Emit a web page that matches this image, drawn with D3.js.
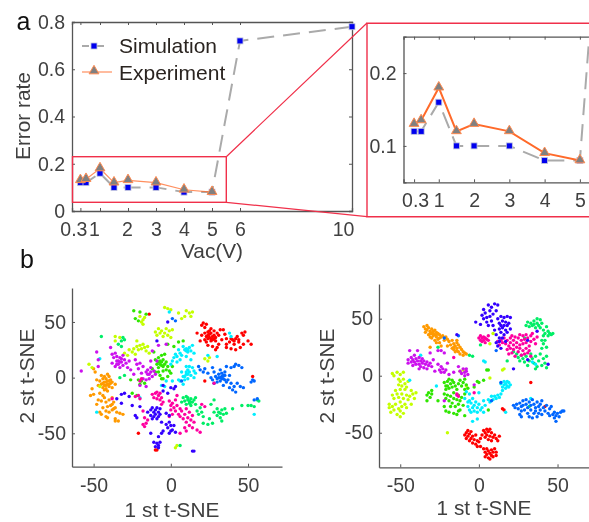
<!DOCTYPE html>
<html>
<head>
<meta charset="utf-8">
<script src="https://cdn.jsdelivr.net/npm/d3@7"></script>
<style>
  html, body { margin: 0; padding: 0; background: #fff; overflow: hidden; }
  text { font-family: "Liberation Sans", Arial, sans-serif; }
  svg { filter: blur(0.4px); }
</style>
</head>
<body>
<svg id="chart" width="589" height="522"></svg>
<script>
// Panel a: error rate against Vac
const vac = [0.3, 0.5, 1, 1.5, 2, 3, 4, 5, 6, 10];
const simulation = [0.12, 0.12, 0.16, 0.10, 0.10, 0.10, 0.08, 0.08, 0.72, 0.78];
const vacExp = [0.3, 0.5, 1, 1.5, 2, 3, 4, 5];
const experiment = [0.13, 0.135, 0.18, 0.12, 0.13, 0.12, 0.09, 0.08];
const mainXTicks = [0.3, 1, 2, 3, 4, 5, 6, 10];
const mainYTicks = [0, 0.2, 0.4, 0.6, 0.8];
const insetXTicks = [0.3, 1, 2, 3, 4, 5];
const insetYTicks = [0.1, 0.2];
const sneTicks = [-50, 0, 50];

const clusterColors = {
  red: '#ff0000', orange: '#ff9a00', purple: '#cc11ee', lime: '#c4ff00', green: '#2fe600',
  spring: '#00ee66', cyan: '#00eeff', blue: '#0066ff', indigo: '#3300ff', pink: '#ff00a0'
};

// Panel b left, points read per colour
const leftRed = [[21,49],[20,47],[23,48],[22,45],[17,40],[20,38],[22,40],[24,38],[25,36],[26,40],[27,37],[28,35],[26,33],[24,35],[23,32],[28,42],[30,40],[31,38],[29,33],[27,28],[32,43],[34,43],[26,44],[33,34],[31,30],[36,30],[36,35],[38,32],[40,34],[41,30],[42,35],[44,34],[43,37],[46,40],[48,41],[44,32],[47,30],[50,33],[52,30],[39,26],[42,25],[36,27],[30,27],[29,25],[19,33],[22,34],[45,27],[47,38],[24,29],[25,42],[35,39],[-14,57],[-10,-65],[-9,-65],[-21,-50],[53,1],[22,-3],[23,37],[25,39],[26,35],[27,34],[24,41],[28,38],[29,36],[41,33],[39,35]];
const leftOrange = [[-51,-10],[-50,-15],[-52,-16],[-50,8],[-49,5],[-48,-2],[-47,-7],[-46,-3],[-45,2],[-44,-1],[-43,-4],[-42,-7],[-41,-3],[-40,-8],[-39,-5],[-38,-4],[-44,-9],[-42,-1],[-41,3],[-43,1],[-40,1],[-45,-6],[-43,-11],[-41,-12],[-38,-9],[-36,-6],[-46,-14],[-44,-16],[-47,-20],[-48,-24],[-45,-21],[-43,-18],[-42,-22],[-40,-20],[-38,-18],[-41,-26],[-39,-25],[-37,-22],[-36,-27],[-44,-27],[-42,-30],[-40,-31],[-38,-29],[-35,-31],[-33,-32],[-45,-33],[-41,-36],[-36,-37],[-42,-35],[-34,-39],[-36,-39],[-31,-33],[-46,-31],[-44,-5],[-43,-7],[-42,-4],[-41,-6],[-40,-3],[-39,-2],[-42,-10],[-40,-6],[-38,-24],[-37,-28]];
const leftPurple = [[-58,6],[-48,23],[-47,16],[-47,10],[-39,27],[-38,21],[-37,18],[-36,22],[-35,15],[-34,12],[-33,18],[-32,14],[-31,11],[-30,16],[-29,13],[-33,9],[-36,10],[-38,13],[-35,19],[-31,20],[-28,9],[-27,15],[-26,7],[-23,16],[-22,12],[-21,8],[-20,13],[-18,10],[-16,5],[-15,7],[-14,3],[-13,9],[-12,1],[-11,6],[-10,3],[-16,-2],[-19,4],[-14,-1],[-24,3],[-18,-1],[-9,15],[-13,15],[-8,29],[-12,24],[-3,30],[-20,-7],[-16,-8],[-34,15],[-33,14],[-32,17],[-35,12],[-15,3],[-13,5]];
const leftLime = [[-53,12],[-51,9],[-30,22],[-28,20],[-27,25],[-25,23],[-24,26],[-23,21],[-22,28],[-21,25],[-20,29],[-19,26],[-18,30],[-17,27],[-16,24],[-15,28],[-22,33],[-14,22],[-10,41],[-9,38],[-8,44],[-7,40],[-6,42],[-5,37],[-4,40],[-3,44],[-2,38],[-1,42],[0,36],[1,43],[-4,63],[-2,62],[0,61],[-20,55],[-19,50],[-18,48],[-18,52],[-17,54],[10,60],[12,58],[13,55],[9,55],[14,59],[22,17],[24,15],[25,18],[3,-63],[4,-61],[-36,37],[-36,33],[-33,36],[-46,-8],[7,53],[5,58]];
const leftGreen = [[-12,8],[-10,16],[-9,12],[-8,18],[-8,9],[-7,15],[-6,20],[-6,11],[-5,16],[-5,6],[-4,12],[-4,21],[-3,14],[-3,7],[-2,10],[-2,1],[-7,2],[-5,-1],[-8,5],[-1,6],[1,10],[0,4],[-10,5],[-6,-1],[-11,23],[-21,-2],[-19,-3],[-20,-6],[-17,-5],[-25,-14],[-22,-16],[-24,60],[-20,59],[-23,53],[-21,51],[-16,57],[-2,30],[2,28],[5,32],[8,33],[-26,-2],[-7,12],[-6,14],[-5,10],[-8,14]];
const leftSpring = [[7,-22],[8,-18],[9,-21],[10,-17],[11,-20],[12,-23],[13,-19],[14,-22],[15,-20],[16,-18],[10,-24],[13,-25],[16,-24],[17,-30],[18,-33],[20,-31],[21,-35],[19,-27],[25,-37],[27,-41],[24,-42],[30,-34],[31,-31],[32,-36],[33,-29],[34,-33],[35,-28],[30,-28],[28,-31],[36,-32],[33,-39],[28,-20],[26,-24],[40,-28],[46,-25],[-34,30],[-32,33],[-31,36],[-30,34],[-32,28],[-45,37],[52,-25],[50,-25],[54,-26],[56,-20],[57,-21],[6,-61],[21,-41],[-30,2],[-33,0],[11,-18],[12,-21],[13,-22],[32,-32]];
const leftCyan = [[0,12],[1,15],[2,18],[3,21],[4,19],[4,14],[5,25],[6,22],[7,20],[8,28],[9,25],[10,26],[11,23],[12,27],[13,24],[14,29],[10,19],[6,16],[13,16],[15,22],[7,5],[8,1],[9,-2],[10,3],[11,7],[11,-1],[12,5],[13,2],[14,9],[15,6],[16,4],[10,10],[12,10],[15,0],[6,-3],[5,-2],[-4,-8],[-6,-7],[1,-3],[8,-6],[-46,17],[-48,-31],[54,-33],[24,20],[30,19],[-3,-3],[-20,-18],[38,40],[39,37],[-1,59],[11,25],[10,24],[10,5],[11,3],[9,1]];
const leftBlue = [[18,10],[19,7],[21,5],[22,8],[24,4],[27,9],[28,5],[29,1],[30,-1],[31,3],[32,-3],[33,1],[34,-1],[35,5],[36,-4],[37,-2],[35,2],[33,4],[32,7],[30,-4],[27,-2],[26,0],[28,-5],[34,-7],[38,2],[38,-9],[39,-5],[40,-11],[41,-8],[42,-13],[43,-5],[45,-8],[47,-9],[41,10],[42,12],[44,11],[39,9],[36,10],[46,9],[54,-3],[53,-2],[52,-4],[54,-20],[56,-19],[3,51],[1,53],[7,-3],[32,0],[33,-1],[34,2],[31,0],[35,-2]];
const leftIndigo = [[-15,-31],[-13,-34],[-13,-29],[-12,-27],[-12,-37],[-11,-31],[-11,-35],[-10,-29],[-10,-33],[-9,-37],[-9,-27],[-8,-31],[-8,-35],[-7,-28],[-7,-33],[-6,-40],[-3,-32],[-1,-34],[-3,-42],[-2,-45],[-1,-40],[0,-43],[1,-47],[2,-43],[0,-48],[3,-49],[-1,-50],[-13,-50],[-8,-53],[-6,-50],[-5,-48],[-11,-58],[-10,-62],[-9,-59],[-8,-61],[-7,-58],[-8,-63],[14,-66],[15,-66],[-25,-25],[-23,-34],[-22,-36],[-20,-26],[-32,-15],[-30,-14],[-32,-23],[-35,-19],[0,-9],[2,-10],[3,-8],[-2,-14],[-5,-12],[-27,-17],[-9,33],[-2,50],[-5,-7]];
const leftPink = [[-12,-15],[-11,-18],[-10,-14],[-9,-19],[-9,-13],[-8,-16],[-7,-20],[-7,-14],[-6,-18],[-6,-24],[-5,-22],[-18,-30],[-17,-36],[-16,-41],[-18,-42],[-17,-44],[-15,-38],[-1,-21],[0,-25],[0,-29],[1,-23],[1,-33],[2,-27],[3,-20],[3,-30],[4,-25],[4,-16],[5,-33],[6,-28],[-1,-35],[6,-35],[7,-30],[8,-37],[9,-33],[10,-40],[10,-28],[11,-36],[12,-43],[12,-31],[13,-38],[14,-34],[15,-40],[14,-45],[9,-45],[20,-24],[22,-26],[17,-47],[19,-49],[-38,-19],[-19,-1],[-21,-16],[-20,-19],[-23,-17],[6,-50],[10,-48],[-20,-3],[28,-5]];

// Panel b right, points read per colour
const rightRed = [[-9,-52],[-8,-50],[-8,-55],[-7,-48],[-7,-53],[-6,-51],[-6,-57],[-5,-49],[-5,-55],[-4,-53],[-4,-59],[-3,-56],[-2,-52],[-2,-60],[-1,-57],[-1,-62],[0,-58],[1,-55],[2,-52],[3,-48],[4,-50],[4,-54],[5,-47],[5,-52],[6,-49],[6,-56],[7,-47],[7,-53],[8,-50],[8,-57],[9,-54],[10,-52],[11,-55],[12,-57],[13,-53],[3,-64],[4,-67],[4,-71],[5,-64],[5,-69],[6,-66],[6,-72],[7,-68],[7,-73],[8,-65],[8,-70],[9,-67],[9,-71],[10,-64],[11,-67],[11,-70],[1,-62],[15,-29],[16,-30],[33,-6],[42,-27]];
const rightOrange = [[-35,43],[-34,41],[-34,38],[-33,44],[-33,40],[-32,36],[-32,42],[-31,39],[-31,34],[-30,41],[-30,37],[-30,33],[-29,39],[-29,35],[-28,40],[-28,36],[-28,31],[-27,38],[-27,34],[-27,29],[-26,37],[-26,32],[-25,36],[-25,29],[-24,34],[-24,26],[-23,35],[-22,31],[-21,34],[-20,32],[-20,26],[-19,30],[-18,27],[-17,31],[-17,24],[-16,28],[-16,23],[-15,26],[-15,21],[-14,29],[-14,24],[-13,27],[-13,21],[-12,25],[-12,19],[-11,23],[-10,21],[-10,18],[-9,20],[-8,19],[-31,25],[-14,31],[-31,37],[-29,37],[-27,36],[-25,33],[-16,25],[-14,22]];
const rightPurple = [[-45,14],[-45,11],[-44,22],[-43,16],[-43,12],[-42,14],[-42,9],[-41,18],[-41,12],[-40,15],[-40,10],[-39,22],[-39,13],[-38,16],[-38,10],[-38,6],[-37,13],[-37,8],[-36,15],[-36,11],[-35,7],[-35,13],[-34,10],[-33,12],[-33,6],[-32,9],[-31,11],[-30,8],[-28,4],[-29,14],[-26,10],[-25,5],[-24,8],[-24,3],[-23,6],[-22,3],[-21,5],[-20,11],[-19,1],[-16,3],[-13,8],[-12,4],[-11,2],[-10,6],[-9,0],[-9,3],[-8,4],[-7,1],[-8,6],[-24,22],[-26,22],[-31,20],[-22,-22],[-14,-17],[-3,-8],[-22,20]];
const rightLime = [[-55,2],[-54,0],[-52,3],[-51,-3],[-51,-8],[-50,1],[-50,-5],[-49,-9],[-48,3],[-48,-3],[-47,-7],[-46,-10],[-45,-5],[-47,-12],[-50,-12],[-53,-13],[-55,-17],[-54,-20],[-52,-16],[-51,-19],[-50,-23],[-49,-16],[-48,-20],[-47,-25],[-46,-17],[-45,-21],[-44,-18],[-43,-13],[-42,-16],[-41,-20],[-40,-15],[-57,-25],[-57,-28],[-56,-32],[-55,-27],[-54,-30],[-53,-25],[-52,-34],[-51,-29],[-50,-31],[-50,-36],[-49,-27],[-48,-33],[-46,-28],[-43,-25],[-20,-50],[-10,5],[-12,4],[7,28],[7,-2],[16,6],[15,5],[9,37],[-8,-9]];
const rightGreen = [[-22,-6],[-21,-9],[-21,-12],[-20,-5],[-20,-9],[-19,-3],[-19,-11],[-18,-7],[-17,-4],[-17,-10],[-16,-6],[-15,-9],[-14,-12],[-13,-7],[-12,-4],[-11,-9],[-10,-6],[-9,-12],[-9,-3],[-8,-8],[-7,-11],[-22,-16],[-21,-20],[-20,-17],[-19,-22],[-18,-18],[-17,-24],[-16,-15],[-16,-20],[-15,-27],[-14,-21],[-13,-17],[-13,-25],[-12,-30],[-12,-22],[-11,-19],[-10,-26],[-9,-16],[-22,-27],[-21,-31],[-19,-32],[-18,-27],[-16,-33],[-14,-34],[-13,-31],[-33,-17],[-32,-15],[-31,-19],[-30,-16],[-33,-22],[-26,-22],[-9,-35],[-30,-13],[0,-6],[3,-4],[-3,-10],[-1,-5],[6,-30],[5,5],[6,5]];
const rightSpring = [[30,44],[31,47],[32,43],[33,46],[34,44],[35,48],[35,45],[36,42],[37,50],[37,46],[38,44],[39,49],[39,42],[40,46],[41,40],[42,37],[43,43],[44,35],[44,39],[45,37],[46,36],[47,37],[41,35],[41,28],[42,31],[40,31],[43,25],[40,24],[22,21],[24,19],[25,16],[26,13],[27,18],[28,15],[29,12],[30,17],[31,9],[32,13],[33,19],[34,15],[35,11],[36,17],[37,8],[38,13],[39,19],[40,9],[41,15],[42,11],[43,17],[43,7],[36,6],[18,13],[-4,17],[-6,18],[1,27],[29,33],[-26,25],[32,-27]];
const rightCyan = [[14,-7],[15,-10],[16,-5],[16,-8],[17,-7],[17,-11],[18,-5],[18,-9],[19,-6],[19,-10],[20,-8],[15,-13],[14,-16],[13,-19],[12,-17],[11,-20],[10,-18],[9,-21],[8,-18],[7,-23],[6,-21],[4,-26],[3,-22],[2,-28],[1,-30],[3,-32],[0,-25],[-1,-28],[-2,-23],[-3,-26],[-3,-31],[-4,-20],[-4,-28],[-5,-32],[-5,-24],[-6,-30],[-6,-22],[-7,-27],[-1,-32],[-1,-38],[-4,-40],[-9,-20],[-6,-16],[-8,-14],[0,-15],[4,12],[3,13],[-27,-9],[-37,18],[-44,-4],[17,-32],[33,-20],[34,12],[36,10],[-7,-23]];
const rightBlue = [[22,-26],[23,-28],[24,-25],[25,-29],[26,-24],[27,-27],[27,-31],[28,-22],[28,-26],[29,-30],[30,-21],[30,-25],[31,-33],[31,-28],[32,-23],[32,-36],[33,-26],[33,-30],[34,-21],[34,-37],[35,-25],[35,-33],[36,-28],[36,-31],[37,-23],[37,-36],[38,-27],[38,-33],[39,-25],[39,-30],[40,-22],[40,-34],[41,-28],[42,-31],[43,-26],[44,-33],[45,-29],[46,-27],[47,-34],[48,-37],[48,-32],[49,-35],[50,-33],[51,-36],[52,-32],[53,-31],[54,-31],[49,-40],[27,-36],[26,-34],[45,-35],[8,-22],[14,-6],[12,30],[-22,33],[-13,35],[11,22]];
const rightIndigo = [[-2,47],[1,45],[2,53],[3,58],[3,50],[4,55],[5,51],[5,47],[6,62],[6,44],[7,57],[7,52],[8,48],[8,60],[9,54],[9,44],[10,63],[10,40],[11,57],[11,36],[12,62],[12,50],[13,46],[13,41],[13,33],[14,52],[14,44],[14,38],[15,48],[15,42],[16,51],[16,36],[16,44],[17,47],[17,40],[18,44],[18,52],[18,38],[19,46],[20,51],[20,41],[11,29],[12,26],[14,24],[17,30],[13,30],[15,33],[-14,36],[22,6],[37,39],[31,31],[44,10],[31,14]];
const rightPink = [[0,33],[1,31],[1,35],[2,33],[2,30],[3,34],[3,31],[4,33],[4,29],[5,32],[6,31],[6,35],[12,30],[13,27],[14,31],[15,29],[16,33],[17,28],[18,31],[19,26],[20,33],[20,29],[21,35],[22,31],[22,27],[23,34],[24,29],[25,33],[26,27],[26,36],[27,31],[28,35],[28,28],[29,32],[30,36],[30,29],[31,33],[32,26],[33,35],[33,30],[34,37],[35,32],[36,28],[37,34],[18,23],[19,19],[20,24],[21,20],[22,23],[23,17],[24,25],[25,21],[26,24],[27,18],[28,22],[29,19],[30,24],[31,20],[32,22],[33,17],[-16,16],[-14,-16],[-13,-18],[-3,-15]];

const svg = d3.select('#chart');
const textColor = '#404040';
const axisColor = '#555';
const tickFont = 19.5;
const labelFont = 20.8;

function styleAxis(g) {
  g.selectAll('path.domain').attr('stroke', axisColor).attr('stroke-width', 1.3);
  g.selectAll('.tick line').attr('stroke', axisColor).attr('stroke-width', 1);
  g.selectAll('text')
    .attr('fill', textColor)
    .style('font-family', '"Liberation Sans", Arial, sans-serif')
    .style('font-size', tickFont + 'px');
}

function addText(x, y, str, opts = {}) {
  const t = svg.append('text')
    .attr('x', x)
    .attr('y', y)
    .attr('fill', opts.color || textColor)
    .attr('text-anchor', opts.anchor || 'middle')
    .style('font-size', (opts.size || labelFont) + 'px')
    .text(str);
  if (opts.rotate) t.attr('transform', `rotate(-90 ${x} ${y})`);
  return t;
}

function drawSquares(g, xs, ys, x, y) {
  g.selectAll(null)
    .data(xs.map((v, i) => [v, ys[i]]))
    .join('rect')
    .attr('x', d => x(d[0]) - 3)
    .attr('y', d => y(d[1]) - 3)
    .attr('width', 6)
    .attr('height', 6)
    .attr('fill', '#0000ee')
    .attr('stroke', '#c4c8dc')
    .attr('stroke-width', 0.8);
}

function drawTriangles(g, xs, ys, x, y) {
  const tri = d3.symbol().type(d3.symbolTriangle).size(42);
  g.selectAll(null)
    .data(xs.map((v, i) => [v, ys[i]]))
    .join('path')
    .attr('d', tri())
    .attr('transform', d => `translate(${x(d[0])},${y(d[1]) - 0.5})`)
    .attr('fill', '#808080')
    .attr('stroke', '#ff8a50')
    .attr('stroke-width', 1);
}

function drawSeries(g, x, y, expWidth, dash) {
  const line = d3.line().x(d => x(d[0])).y(d => y(d[1]));
  g.append('path')
    .attr('d', line(vac.map((v, i) => [v, simulation[i]])))
    .attr('fill', 'none')
    .attr('stroke', '#aaaaaa')
    .attr('stroke-width', 2)
    .attr('stroke-dasharray', dash);
  g.append('path')
    .attr('d', line(vacExp.map((v, i) => [v, experiment[i]])))
    .attr('fill', 'none')
    .attr('stroke', '#ff6a2a')
    .attr('stroke-opacity', expWidth > 1.5 ? 1 : 0.75)
    .attr('stroke-width', expWidth);
  drawSquares(g, vac, simulation, x, y);
  drawTriangles(g, vacExp, experiment, x, y);
}

// ---- main plot ----
const xMain = d3.scaleLinear().domain([0, 10]).range([72, 352]);
const yMain = d3.scaleLinear().domain([0, 0.8]).range([211, 22]);

const mainBottom = svg.append('g').attr('transform', 'translate(0,211)')
  .call(d3.axisBottom(xMain).tickValues(mainXTicks).tickSize(-3).tickPadding(11).tickFormat(d => d));
styleAxis(mainBottom);
mainBottom.selectAll('.tick text').attr('dx', d => d === 0.3 ? -7 : d === 1 ? -6 : d === 10 ? -9 : d === 2 ? -1 : 0);
const mainLeft = svg.append('g').attr('transform', 'translate(72,0)')
  .call(d3.axisLeft(yMain).tickValues(mainYTicks).tickSize(-3).tickPadding(7).tickFormat(d => d));
styleAxis(mainLeft);
// box on
svg.append('g').attr('transform', 'translate(0,22)')
  .call(d3.axisTop(xMain).tickValues(mainXTicks).tickSize(-3).tickFormat(''))
  .call(styleAxis);
svg.append('g').attr('transform', 'translate(352,0)')
  .call(d3.axisRight(yMain).tickValues(mainYTicks).tickSize(-3).tickFormat(''))
  .call(styleAxis);

const mainG = svg.append('g');
drawSeries(mainG, xMain, yMain, 1.2, '17 9');

// legend
const xLegend = d3.scaleLinear().domain([0, 1]).range([82, 112]);
const legendDash = svg.append('g');
legendDash.append('line')
  .attr('x1', xLegend(0)).attr('x2', xLegend(1)).attr('y1', 46).attr('y2', 46)
  .attr('stroke', '#aaaaaa').attr('stroke-width', 2).attr('stroke-dasharray', '7 8');
legendDash.append('rect').attr('x', 91).attr('y', 43).attr('width', 6).attr('height', 6)
  .attr('fill', '#0000ee').attr('stroke', '#c4c8dc').attr('stroke-width', 0.8);
legendDash.append('line')
  .attr('x1', xLegend(0)).attr('x2', xLegend(1)).attr('y1', 72).attr('y2', 72)
  .attr('stroke', '#ff6a2a').attr('stroke-opacity', 0.75).attr('stroke-width', 1.2);
legendDash.append('path')
  .attr('d', d3.symbol().type(d3.symbolTriangle).size(42)())
  .attr('transform', 'translate(94,71)')
  .attr('fill', '#808080').attr('stroke', '#ff8a50');
addText(119, 53, 'Simulation', { anchor: 'start', size: 21, color: '#2a2420' });
addText(119, 80, 'Experiment', { anchor: 'start', size: 21, color: '#2a2420' });

// zoom box and connectors
const zoomColor = '#f0304a';
svg.append('rect').attr('x', 72.5).attr('y', 156.7).attr('width', 153.8).attr('height', 45.6)
  .attr('fill', 'none').attr('stroke', zoomColor).attr('stroke-width', 1.4);
svg.append('path').attr('d', 'M226.3,156.7L367,23M226.3,202.3L367,216.7')
  .attr('fill', 'none').attr('stroke', zoomColor).attr('stroke-width', 1.2);
svg.append('path').attr('d', 'M600,23.3H367V216.7H600')
  .attr('fill', 'none').attr('stroke', zoomColor).attr('stroke-width', 1.4);

// ---- inset ----
const xInset = d3.scaleLinear().domain([0, 5.4]).range([403.5, 594]);
const yInset = d3.scaleLinear().domain([0.05, 0.25]).range([182.3, 36.7]);
svg.append('clipPath').attr('id', 'insetClip').append('rect')
  .attr('x', 403.5).attr('y', 36.7).attr('width', 190).attr('height', 145.6);

svg.append('g').attr('transform', 'translate(0,182.3)')
  .call(d3.axisBottom(xInset).tickValues(insetXTicks).tickSize(-3).tickPadding(11).tickFormat(d => d))
  .call(styleAxis)
  .selectAll('.tick text').attr('dx', d => d === 0.3 ? 1 : 0);
svg.append('g').attr('transform', 'translate(403.5,0)')
  .call(d3.axisLeft(yInset).tickValues(insetYTicks).tickSize(-3).tickPadding(7).tickFormat(d => d))
  .call(styleAxis);
svg.append('g').attr('transform', 'translate(0,36.7)')
  .call(d3.axisTop(xInset).tickValues(insetXTicks).tickSize(-3).tickFormat(''))
  .call(styleAxis);

const insetG = svg.append('g').attr('clip-path', 'url(#insetClip)');
drawSeries(insetG, xInset, yInset, 2, '17 9');

// ---- t-SNE panels ----
function drawTsne(range, yRange, groups) {
  const x = d3.scaleLinear().domain(range.domain).range(range.px);
  const y = d3.scaleLinear().domain(yRange.domain).range(yRange.px);
  const fmt = d => String(d);
  svg.append('g').attr('transform', `translate(0,${yRange.px[0]})`)
    .call(d3.axisBottom(x).tickValues(sneTicks).tickSize(-3).tickPadding(11).tickSizeOuter(0).tickFormat(fmt))
    .call(styleAxis);
  svg.append('g').attr('transform', `translate(${range.px[0]},0)`)
    .call(d3.axisLeft(y).tickValues(sneTicks).tickSize(-3).tickPadding(6).tickSizeOuter(0).tickFormat(fmt))
    .call(styleAxis);
  groups.forEach(([pts, color]) => {
    svg.append('g').selectAll('circle')
      .data(pts)
      .join('circle')
      .attr('cx', d => x(d[0]))
      .attr('cy', d => y(d[1]))
      .attr('r', 1.7)
      .attr('fill', color);
  });
}

drawTsne({ domain: [-64, 72], px: [72, 282] }, { domain: [-80, 80.5], px: [466.7, 288] }, [
  [leftOrange, clusterColors.orange], [leftRed, clusterColors.red], [leftLime, clusterColors.lime],
  [leftGreen, clusterColors.green], [leftSpring, clusterColors.spring], [leftCyan, clusterColors.cyan],
  [leftBlue, clusterColors.blue], [leftPurple, clusterColors.purple], [leftPink, clusterColors.pink],
  [leftIndigo, clusterColors.indigo]
]);
drawTsne({ domain: [-63.5, 70], px: [379, 589] }, { domain: [-80.3, 80.4], px: [467.3, 284] }, [
  [rightOrange, clusterColors.orange], [rightRed, clusterColors.red], [rightLime, clusterColors.lime],
  [rightGreen, clusterColors.green], [rightSpring, clusterColors.spring], [rightCyan, clusterColors.cyan],
  [rightBlue, clusterColors.blue], [rightPurple, clusterColors.purple], [rightPink, clusterColors.pink],
  [rightIndigo, clusterColors.indigo]
]);

// ---- labels ----
addText(23.5, 30, 'a', { size: 25, color: '#111' });
addText(27, 268, 'b', { size: 25, color: '#111' });
addText(212, 258, 'Vac(V)');
addText(30, 116, 'Error rate', { rotate: true });
addText(172, 517, '1 st t-SNE');
addText(34, 376, '2 st t-SNE', { rotate: true });
addText(484, 515, '1 st t-SNE');
addText(334, 376, '2 st t-SNE', { rotate: true });
</script>
</body>
</html>
